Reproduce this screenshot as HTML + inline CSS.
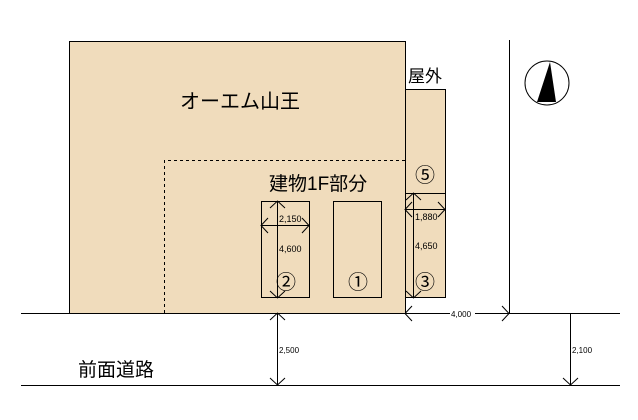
<!DOCTYPE html>
<html><head><meta charset="utf-8"><style>
html,body{margin:0;padding:0;background:#fff;width:638px;height:420px;overflow:hidden}
svg{display:block}
text{font-family:"Liberation Sans","Noto Sans CJK JP",sans-serif;fill:#000}
</style></head><body>
<svg width="638" height="420" viewBox="0 0 638 420" xmlns="http://www.w3.org/2000/svg">
<g stroke="#000" stroke-width="1" fill="none" shape-rendering="crispEdges">
<rect x="69.5" y="41.5" width="336" height="272" fill="#f0dcbc"/>
<rect x="405.5" y="89.5" width="40" height="208" fill="#f0dcbc"/>
<path d="M164.5 313V160.5H405" stroke-dasharray="3,3"/>
<rect x="261.5" y="201.5" width="48" height="96"/>
<rect x="333.5" y="201.5" width="48" height="96"/>
<line x1="405" y1="193.5" x2="445" y2="193.5"/>
<line x1="21" y1="313.5" x2="620" y2="313.5"/>
<line x1="21" y1="385.5" x2="620" y2="385.5"/>
<line x1="509.5" y1="40" x2="509.5" y2="313"/>
</g>
<g stroke="#000" stroke-width="1" fill="none">
<line x1="277.5" y1="201" x2="277.5" y2="298"/>
<path d="M270 208l7.5-7 7.5 7M270 291l7.5 7 7.5-7"/>
<line x1="261" y1="225.5" x2="309" y2="225.5"/>
<path d="M268 218l-7 7.5 7 7.5M302 218l7 7.5-7 7.5"/>
<line x1="413.5" y1="193" x2="413.5" y2="298"/>
<path d="M406 200l7.5-7 7.5 7M406 291l7.5 7 7.5-7"/>
<line x1="405" y1="209.5" x2="445" y2="209.5"/>
<path d="M412 202l-7 7.5 7 7.5M438 202l7 7.5-7 7.5"/>
<path d="M412 306l-7 7.5 7 7.5M502 306l7 7.5-7 7.5"/>
<line x1="277.5" y1="313" x2="277.5" y2="385"/>
<path d="M270 320l7.5-7 7.5 7M270 378l7.5 7 7.5-7"/>
<line x1="570.5" y1="313" x2="570.5" y2="385"/>
<path d="M563 378l7.5 7 7.5-7"/>
<circle cx="547" cy="83" r="22"/>
</g>
<polygon points="550,62 537,102 556,102" fill="#000"/>
<rect x="450" y="308" width="25" height="10" fill="#fff"/>
<text x="180" y="108" font-size="20">オーエム山王</text>
<text x="269" y="190" font-size="19">建物1F部分</text>
<text x="408" y="82" font-size="17">屋外</text>
<text x="78" y="376" font-size="19">前面道路</text>
<text x="279" y="222" font-size="9">2,150</text>
<text x="279" y="252" font-size="9">4,600</text>
<text x="415" y="220" font-size="9">1,880</text>
<text x="415" y="249" font-size="9">4,650</text>
<text x="451" y="317" font-size="8">4,000</text>
<text x="279" y="353" font-size="8">2,500</text>
<text x="572" y="353" font-size="8">2,100</text>
<text x="276" y="289" font-size="20">②</text>
<text x="348" y="289" font-size="20">①</text>
<text x="415" y="289" font-size="20">③</text>
<text x="415" y="182" font-size="20">⑤</text>
</svg>
</body></html>
